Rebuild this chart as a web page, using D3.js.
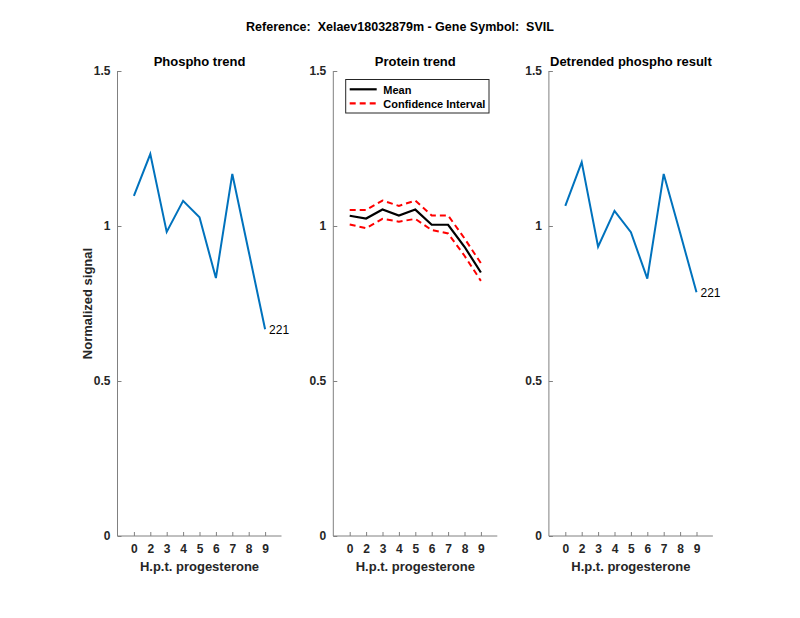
<!DOCTYPE html>
<html><head><meta charset="utf-8">
<script src="https://cdn.jsdelivr.net/npm/d3@7"></script>
<style>body{margin:0;background:#fff}svg text{font-family:"Liberation Sans",Arial,Helvetica,sans-serif;white-space:pre}</style>
</head><body>
<script>
const tickLabels = ["0","2","3","4","5","6","7","8","9"];
const xPos = [1,2,3,4,5,6,7,8,9];
const phospho = [1.097,1.232,0.981,1.081,1.028,0.832,1.168,0.918,0.667];
const proteinMean = [1.033,1.024,1.053,1.034,1.053,1.004,1.004,0.933,0.850];
const proteinUpper = [1.052,1.052,1.082,1.065,1.082,1.034,1.034,0.960,0.880];
const proteinLower = [1.005,0.993,1.023,1.014,1.023,0.987,0.976,0.904,0.823];
const detrended = [1.065,1.206,0.933,1.049,0.980,0.830,1.168,0.978,0.786];
const yTicks = [0,0.5,1,1.5];
const panelTitles = ["Phospho trend","Protein trend","Detrended phospho result"];
const peptideLabel = "221";

const W=800,H=618;
const svg=d3.select("body").append("svg").attr("width",W).attr("height",H);
svg.append("text").attr("x",400).attr("y",31).attr("text-anchor","middle")
  .attr("font-size",12.5).attr("font-weight","bold").attr("fill","#000")
  .text("Reference:  Xelaev18032879m - Gene Symbol:  SVIL");

const left=[117.5,333.3,548.9], pw=164, plotTop=71, plotBottom=536;
const y=d3.scaleLinear().domain([0,1.5]).range([plotBottom,plotTop]);
const axisCol="#808080", textCol="#262626";

function panel(i){
  const g=svg.append("g");
  const x=d3.scaleLinear().domain([0,10]).range([left[i],left[i]+pw]);
  const ya=g.append("g").attr("transform",`translate(${left[i]},0)`)
    .call(d3.axisLeft(y).tickValues(yTicks).tickSize(-4).tickPadding(7).tickFormat(d3.format("")));
  const xa=g.append("g").attr("transform",`translate(0,${plotBottom})`)
    .call(d3.axisBottom(x).tickValues(xPos).tickSize(-4).tickPadding(8).tickFormat((d,j)=>tickLabels[j]));
  [ya,xa].forEach(a=>{
    a.select(".domain").attr("stroke",axisCol);
    a.selectAll(".tick line").attr("stroke",axisCol);
    a.selectAll("text").attr("fill",textCol).attr("font-size",12).attr("font-weight","bold");
  });
  ya.select(".domain").attr("d",`M0,${plotBottom}V${plotTop}`);
  xa.select(".domain").attr("d",`M${left[i]},0H${left[i]+pw}`);
  g.append("text").attr("x",left[i]+pw/2).attr("y",571).attr("text-anchor","middle")
    .attr("font-size",13).attr("font-weight","bold").attr("fill",textCol).text("H.p.t. progesterone");
  g.append("text").attr("x",left[i]+pw/2).attr("y",66).attr("text-anchor","middle")
    .attr("font-size",13).attr("font-weight","bold").attr("fill","#000").text(panelTitles[i]);
  return {g,x};
}

function drawLine(g,x,vals,color,w,dash){
  const line=d3.line().x((d,j)=>x(xPos[j])).y(d=>y(d));
  const p=g.append("path").datum(vals).attr("d",line).attr("fill","none")
    .attr("stroke",color).attr("stroke-width",w).attr("stroke-linejoin","miter");
  if(dash) p.attr("stroke-dasharray",dash);
}

let p=panel(0);
drawLine(p.g,p.x,phospho,"#0072BD",2);
p.g.append("text").attr("x",p.x(xPos[8])+4).attr("y",y(phospho[8])+5).attr("font-size",12).attr("fill","#000").text(peptideLabel);
svg.append("text").attr("transform",`translate(92,${(plotTop+plotBottom)/2}) rotate(-90)`).attr("text-anchor","middle")
  .attr("font-size",13).attr("font-weight","bold").attr("fill",textCol).text("Normalized signal");

p=panel(1);
drawLine(p.g,p.x,proteinUpper,"#FF0000",2,"6,4");
drawLine(p.g,p.x,proteinLower,"#FF0000",2,"6,4");
drawLine(p.g,p.x,proteinMean,"#000000",2.2);
const lg=p.g.append("g");
lg.append("rect").attr("x",345.7).attr("y",79.5).attr("width",143.3).attr("height",33.5)
  .attr("fill","#fff").attr("stroke","#262626").attr("stroke-width",1);
lg.append("line").attr("x1",349.7).attr("x2",376.7).attr("y1",89.3).attr("y2",89.3).attr("stroke","#000").attr("stroke-width",2.2);
lg.append("line").attr("x1",349.7).attr("x2",376.7).attr("y1",103.3).attr("y2",103.3).attr("stroke","#FF0000").attr("stroke-width",2.2).attr("stroke-dasharray","6,4");
lg.append("text").attr("x",383.3).attr("y",93.5).attr("font-size",11).attr("font-weight","bold").attr("fill","#000").text("Mean");
lg.append("text").attr("x",383.3).attr("y",107.5).attr("font-size",11).attr("font-weight","bold").attr("fill","#000").text("Confidence Interval");

p=panel(2);
drawLine(p.g,p.x,detrended,"#0072BD",2);
p.g.append("text").attr("x",p.x(xPos[8])+4).attr("y",y(detrended[8])+5).attr("font-size",12).attr("fill","#000").text(peptideLabel);
</script>
</body></html>
